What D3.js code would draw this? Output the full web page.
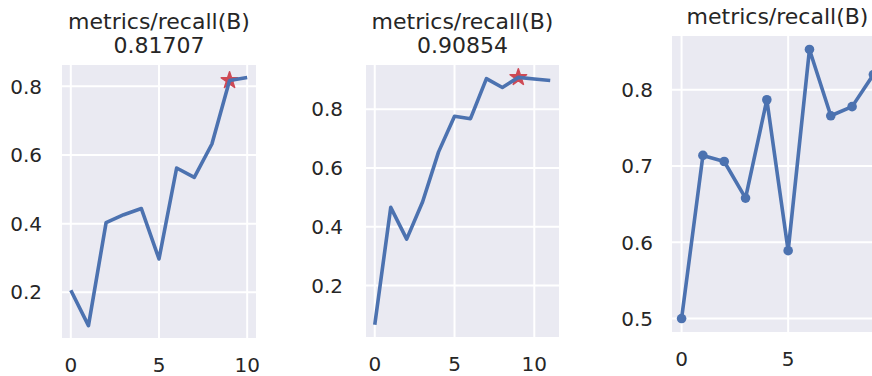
<!DOCTYPE html>
<meta charset="utf-8">
<script src="https://d3js.org/d3.v7.min.js"></script>
<style>
  body { margin: 0; background: #fff; }
  text { font-family: "DejaVu Sans", sans-serif; fill: #262626; }
</style>
<div id="chart"></div>
<script>
// epochs and recall values for the three panels
var epochs1 = [0, 1, 2, 3, 4, 5, 6, 7, 8, 9, 10];
var recall1 = [0.206, 0.103, 0.403, 0.426, 0.444, 0.297, 0.562, 0.535, 0.632, 0.81707, 0.826];
var epochs2 = [0, 1, 2, 3, 4, 5, 6, 7, 8, 9, 10, 11];
var recall2 = [0.067, 0.466, 0.358, 0.485, 0.655, 0.776, 0.768, 0.904, 0.874, 0.90854, 0.903, 0.898];
var epochs3 = [0, 1, 2, 3, 4, 5, 6, 7, 8, 9];
var recall3 = [0.500, 0.714, 0.706, 0.658, 0.787, 0.589, 0.853, 0.766, 0.778, 0.820];

var titles = [["metrics/recall(B)", "0.81707"], ["metrics/recall(B)", "0.90854"], ["metrics/recall(B)"]];
var best = [{x: 9, y: 0.81707}, {x: 9, y: 0.90854}, null];
var yTicks = [[0.2, 0.4, 0.6, 0.8], [0.2, 0.4, 0.6, 0.8], [0.5, 0.6, 0.7, 0.8]];
var xTicks = [[0, 5, 10], [0, 5, 10], [0, 5]];

var W = 872, H = 376;
var blue = "#4c72b0", red = "#cf4a55";

var svg = d3.select("#chart").append("svg")
    .attr("width", W)
    .attr("height", H);

var panels = [
  {xs: epochs1, ys: recall1, box: {l: 62, r: 256, t: 65, b: 338}, pad: 20, titleY: 29, dots: false},
  {xs: epochs2, ys: recall2, box: {l: 366, r: 559, t: 65, b: 337}, pad: 23, titleY: 29, dots: false},
  {xs: epochs3, ys: recall3, box: {l: 672, r: 883, t: 36, b: 332}, pad: 19, titleY: 24, dots: true}
];

panels.forEach(function(p, i) {
  var bx = p.box;
  var g = svg.append("g");

  // matplotlib-style 5% margins
  var xe = d3.extent(p.xs), ye = d3.extent(p.ys);
  var xm = (xe[1] - xe[0]) * 0.05, ym = (ye[1] - ye[0]) * 0.05;
  var x = d3.scaleLinear().domain([xe[0] - xm, xe[1] + xm]).range([bx.l, bx.r]);
  var y = d3.scaleLinear().domain([ye[0] - ym, ye[1] + ym]).range([bx.b, bx.t]);

  g.append("rect")
    .attr("x", bx.l).attr("y", bx.t)
    .attr("width", bx.r - bx.l).attr("height", bx.b - bx.t)
    .attr("fill", "#eaeaf2");

  // grid
  g.selectAll(".gy").data(yTicks[i]).enter().append("line")
    .attr("x1", bx.l).attr("x2", bx.r)
    .attr("y1", function(d) { return y(d); })
    .attr("y2", function(d) { return y(d); })
    .attr("stroke", "#fff").attr("stroke-width", 2);
  g.selectAll(".gx").data(xTicks[i]).enter().append("line")
    .attr("y1", bx.t).attr("y2", bx.b)
    .attr("x1", function(d) { return x(d); })
    .attr("x2", function(d) { return x(d); })
    .attr("stroke", "#fff").attr("stroke-width", 2);

  // tick labels
  g.selectAll(".ty").data(yTicks[i]).enter().append("text")
    .attr("x", bx.l - p.pad)
    .attr("y", function(d) { return y(d); })
    .attr("dy", "0.36em")
    .attr("text-anchor", "end")
    .style("font-size", "20px")
    .text(function(d) { return d3.format(".1f")(d); });
  g.selectAll(".tx").data(xTicks[i]).enter().append("text")
    .attr("x", function(d) { return x(d); })
    .attr("y", bx.b + 34)
    .attr("text-anchor", "middle")
    .style("font-size", "20px")
    .text(function(d) { return d; });

  // title
  titles[i].forEach(function(t, k) {
    g.append("text")
      .attr("x", (bx.l + bx.r) / 2)
      .attr("y", p.titleY + k * 24)
      .attr("text-anchor", "middle")
      .style("font-size", "22px")
      .text(t);
  });

  // best epoch star
  if (best[i]) {
    g.append("path")
      .attr("d", d3.symbol().type(d3.symbolStar).size(85)())
      .attr("transform", "translate(" + x(best[i].x) + "," + y(best[i].y) + ")")
      .attr("fill", red)
      .attr("stroke", red)
      .attr("stroke-width", 1.5)
      .attr("stroke-linejoin", "round");
  }

  var line = d3.line()
    .x(function(d, j) { return x(p.xs[j]); })
    .y(function(d) { return y(d); });
  g.append("path")
    .datum(p.ys)
    .attr("d", line)
    .attr("fill", "none")
    .attr("stroke", blue)
    .attr("stroke-width", 3.6)
    .attr("stroke-linejoin", "round");

  if (p.dots) {
    g.selectAll(".dot").data(p.ys).enter().append("circle")
      .attr("cx", function(d, j) { return x(p.xs[j]); })
      .attr("cy", function(d) { return y(d); })
      .attr("r", 4.8)
      .attr("fill", blue);
  }
});
</script>
